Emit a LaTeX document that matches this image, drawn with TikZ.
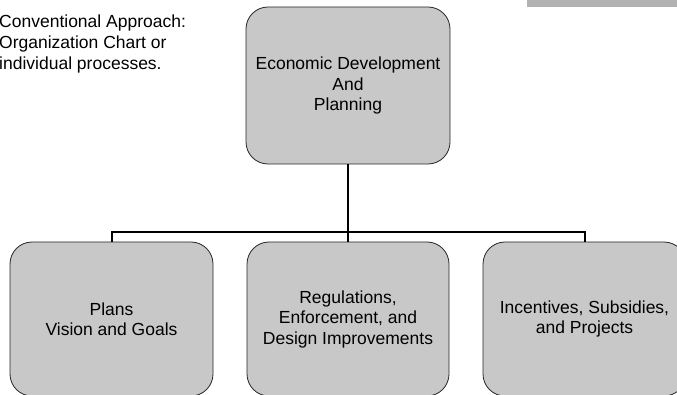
\documentclass[tikz,border=0pt]{standalone}
\usepackage{fontspec}
\setmainfont{Liberation Sans}
\definecolor{boxgray}{RGB}{200,200,200}
\definecolor{bargray}{RGB}{178,178,178}
\tikzset{
  orgbox/.style={draw=black!85, line width=0.8pt, fill=boxgray,
    rounded corners=22pt, inner sep=0pt, outer sep=0pt, align=center,
    font=\fontsize{17.5}{20.5}\selectfont},
  orgline/.style={line width=2pt, black}
}
\begin{document}
\begin{tikzpicture}[x=1pt, y=-1pt]
      % Fix the page to the size of the chart
      \useasboundingbox (0,0) rectangle (677,395);

      % Grey strip at the top right
      \fill[bargray] (527,0) rectangle (677,7);

      % Note on the left
      \node[anchor=north west, inner sep=0pt, align=left,
            font=\fontsize{17.5}{21}\selectfont] (note) at (-1,15)
        {Conventional Approach:\\Organization Chart or\\individual processes.};

      % The top box and the three boxes below it
      \node[orgbox, minimum width=204pt, minimum height=157pt] (econ) at (348,85.5)
        {Economic Development\\And\\Planning};
      \node[orgbox, minimum width=203pt, minimum height=154pt] (plans) at (111.5,319)
        {Plans\\Vision and Goals};
      \node[orgbox, minimum width=202pt, minimum height=154pt] (regs) at (348,319)
        {Regulations,\\Enforcement, and\\Design Improvements};
      \node[orgbox, minimum width=203pt, minimum height=154pt] (incent) at (584.5,319)
        {Incentives, Subsidies,\\and Projects};

      % Connectors
      \coordinate (bus) at (348,232);
      \draw[orgline] (econ.south) -- (regs.north);
      \draw[orgline] (plans.north) |- (bus) -| (incent.north);
\end{tikzpicture}
\end{document}
